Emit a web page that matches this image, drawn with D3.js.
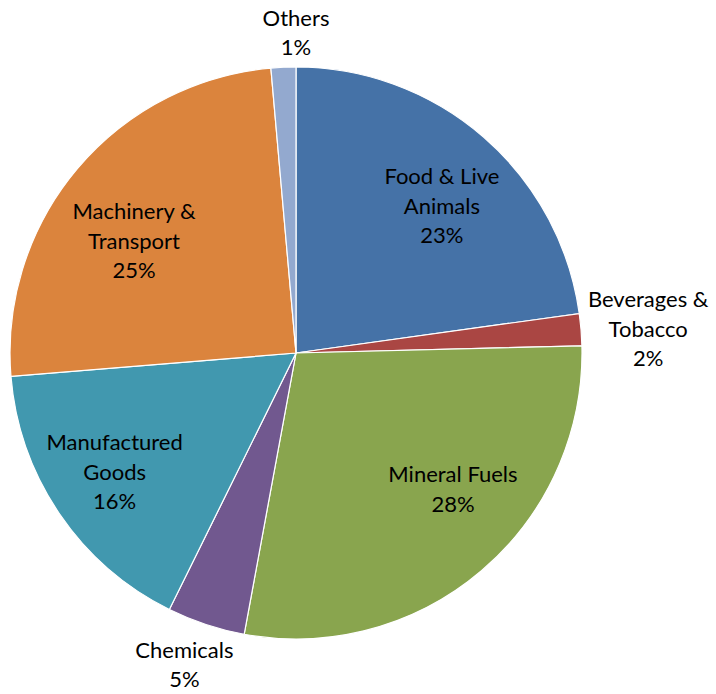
<!DOCTYPE html>
<html>
<head>
<meta charset="utf-8">
<script src="https://cdn.jsdelivr.net/npm/d3@7"></script>
<style>
  body { margin: 0; background: #fff; }
  svg text { font-family: Lato, "Open Sans", sans-serif; font-size: 22px; fill: #000; }
</style>
</head>
<body>
<svg id="chart" width="716" height="694"></svg>
<script>
// slices, clockwise from 12 o'clock
const categories = ["Food & Live\nAnimals", "Beverages &\nTobacco", "Mineral Fuels", "Chemicals", "Manufactured\nGoods", "Machinery &\nTransport", "Others"];
const shares = [22.8, 1.8, 28.3, 4.4, 16.4, 24.9, 1.4];
const pctLabels = ["23%", "2%", "28%", "5%", "16%", "25%", "1%"];
const colors = ["#4572A7", "#AA4643", "#89A54E", "#71588F", "#4198AF", "#DB843D", "#93A9CF"];

// label placement: [angle in degrees from north, distance from centre]
const labelPolar = [[44.8, 207], [86.1, 353], [131, 208], [199.7, 331], [236.7, 217], [304.7, 197], [0, 320]];

const svg = d3.select("#chart");
const cx = 296, cy = 353, r = 286;
const g = svg.append("g").attr("transform", `translate(${cx},${cy})`);

const pie = d3.pie().sort(null).value(d => d);
const arc = d3.arc().innerRadius(0).outerRadius(r);
const arcs = pie(shares);

g.selectAll("path")
    .data(arcs)
    .enter().append("path")
    .attr("d", arc)
    .attr("fill", (d, i) => colors[i])
    .attr("stroke", "#fff")
    .attr("stroke-width", 1.2);

const lineH = 29.5;
const labels = g.selectAll("text.lbl")
    .data(arcs)
    .enter().append("text")
    .attr("class", "lbl")
    .attr("text-anchor", "middle")
    .attr("transform", (d, i) => {
        const a = labelPolar[i][0] * Math.PI / 180, rr = labelPolar[i][1];
        return `translate(${rr * Math.sin(a)},${-rr * Math.cos(a)})`;
    });

labels.each(function (d, i) {
    const lines = categories[i].split("\n").concat([pctLabels[i]]);
    const t = d3.select(this);
    const y0 = -(lines.length - 1) * lineH / 2;
    lines.forEach((s, k) => {
        t.append("tspan")
            .attr("x", 0)
            .attr("y", y0 + k * lineH)
            .attr("dy", "0.35em")
            .text(s);
    });
});
</script>
</body>
</html>
